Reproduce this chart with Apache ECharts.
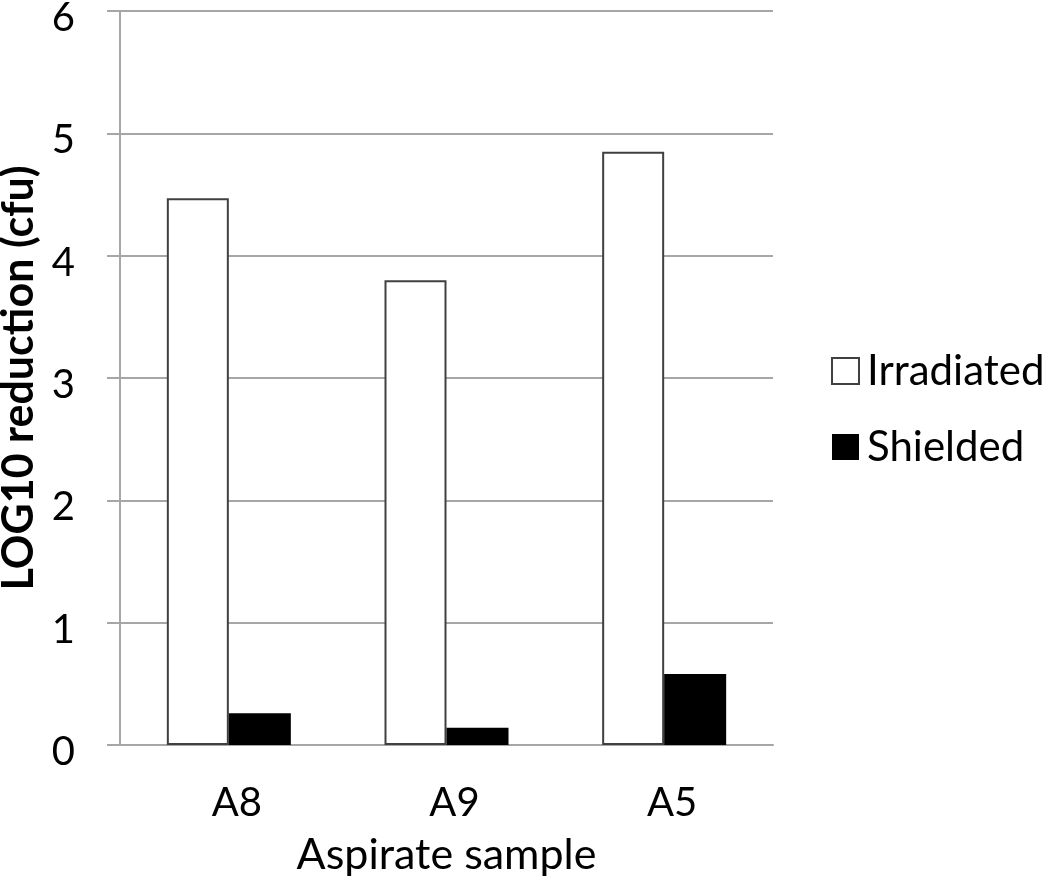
<!DOCTYPE html>
<html>
<head>
<meta charset="utf-8">
<script src="https://cdn.jsdelivr.net/npm/echarts@6/dist/echarts.min.js"></script>
<style>
  html, body { margin: 0; padding: 0; background: #fff; }
  #chart { width: 1050px; height: 884px; }
</style>
</head>
<body>
<div id="chart"></div>
<script>
const categories = ['A8', 'A9', 'A5']
const irradiated = [4.47, 3.80, 4.85]
const shielded = [0.26, 0.14, 0.58]
const yTicks = [0, 1, 2, 3, 4, 5, 6]

const font = 'Lato'
const gray = '#a6a6a6'

const chart = echarts.init(document.getElementById('chart'))

const option = {
  backgroundColor: '#fff',
  animation: false,
  textStyle: { fontFamily: font, color: '#000' },
  grid: {
    left: 120,
    right: 277,
    top: 11,
    bottom: 139,
    containLabel: false,
    outerBoundsMode: 'none'
  },
  legend: {
    orient: 'vertical',
    left: 826,
    top: 345,
    itemWidth: 27,
    itemHeight: 26,
    itemGap: 34,
    icon: 'rect',
    textStyle: { fontSize: 42, fontFamily: font, color: '#000', padding: [0, 0, 0, 3] },
    data: ['Irradiated', 'Shielded']
  },
  xAxis: {
    type: 'category',
    data: categories,
    name: 'Aspirate sample',
    nameLocation: 'middle',
    nameGap: 89,
    nameTextStyle: { fontSize: 43, fontFamily: font, color: '#000' },
    axisLine: { show: true, lineStyle: { color: gray, width: 2 } },
    axisTick: { show: false },
    axisLabel: { fontSize: 40, fontFamily: font, color: '#000', margin: 38, padding: [0, 0, 0, 16] }
  },
  yAxis: {
    type: 'value',
    min: yTicks[0],
    max: yTicks[yTicks.length - 1],
    interval: 1,
    name: 'LOG10 reduction (cfu)',
    nameLocation: 'middle',
    nameGap: 77,
    nameTextStyle: { fontSize: 43, fontWeight: 'bold', fontFamily: font, color: '#000' },
    axisLine: { show: true, lineStyle: { color: gray, width: 2 } },
    axisTick: { show: true, length: 13, lineStyle: { color: gray, width: 2 } },
    axisLabel: {
      fontSize: 40,
      fontFamily: font,
      color: '#000',
      margin: 45,
      verticalAlign: 'top',
      lineHeight: 14
    },
    splitLine: { show: true, lineStyle: { color: gray, width: 2 } }
  },
  series: [
    {
      name: 'Irradiated',
      type: 'bar',
      data: irradiated,
      barWidth: 62,
      barGap: '0%',
      itemStyle: { color: '#fff', borderColor: '#404040', borderWidth: 2 }
    },
    {
      name: 'Shielded',
      type: 'bar',
      data: shielded,
      barWidth: 62,
      itemStyle: { color: '#000', borderColor: '#000', borderWidth: 0 }
    }
  ]
}

chart.setOption(option)
window.addEventListener('resize', function () {
  chart.resize()
})
</script>
</body>
</html>
